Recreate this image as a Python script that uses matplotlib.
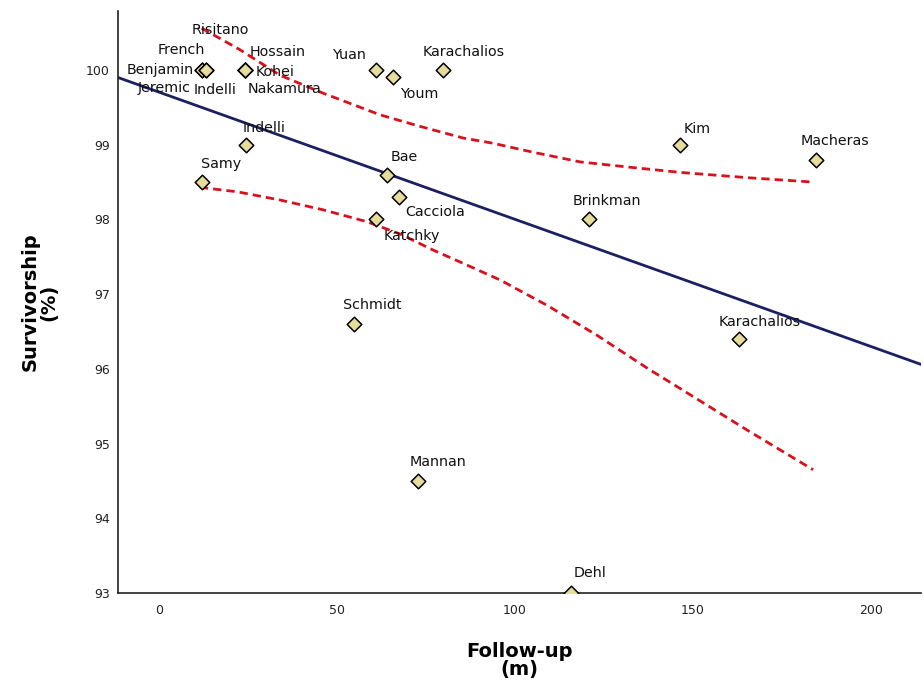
import numpy as np
import matplotlib
matplotlib.use('Agg')
import matplotlib.pyplot as plt

plt.rcParams['font.family'] = ['DejaVu Sans']

# studies (follow-up in months, survivorship in %)
studies = ['Benjamin', 'French', 'Risitano', 'Jeremic',
           'Indelli', 'Hossain', 'Kohei', 'Nakamura',
           'Yuan', 'Youm', 'Karachalios', 'Indelli', 'Samy',
           'Bae', 'Cacciola', 'Katchky', 'Brinkman', 'Kim',
           'Macheras', 'Karachalios', 'Schmidt', 'Mannan', 'Dehl']
followup = [12.0, 12.0, 13.3, 13.3,
            24.2, 24.2, 24.2, 24.2,
            60.9, 65.6, 79.8, 24.4, 12.0,
            64.0, 67.4, 61.0, 120.7, 146.2,
            184.5, 163.0, 54.8, 72.8, 115.6]
survival = [100.0, 100.0, 100.0, 100.0,
            100.0, 100.0, 100.0, 100.0,
            100.0, 99.9, 100.0, 99.0, 98.5,
            98.6, 98.3, 98.0, 98.0, 99.0,
            98.8, 96.4, 96.6, 94.5, 93.0]

# regression line
fit_x = [-11.5, 214.0]
fit_y = [99.90, 96.06]

# confidence band
ci_up_x = [12.0, 22.8, 34.0, 46.1, 62.1, 73.0, 85.4, 93.8, 105.0, 118.3, 132.0, 146.3, 165.0, 183.7]
ci_up_y = [100.56, 100.27, 99.93, 99.69, 99.40, 99.25, 99.09, 99.02, 98.90, 98.77, 98.70, 98.63, 98.56, 98.50]
ci_lo_x = [11.5, 22.0, 34.0, 46.0, 58.4, 68.0, 77.0, 86.0, 95.8, 109.0, 123.0, 137.1, 151.0, 165.2, 183.7]
ci_lo_y = [98.43, 98.37, 98.26, 98.13, 97.97, 97.80, 97.59, 97.40, 97.19, 96.85, 96.45, 96.01, 95.60, 95.18, 94.65]

# label placement (pixel offsets from the point)
offsets = [(-41, 0), (-20, 20), (14, 40), (-42, -18),
           (-30, -20), (32, 18), (30, -2), (39, -19),
           (-27, 15), (27, -17), (21, 18), (18, 17), (19, 18),
           (17, 18), (36, -15), (36, -17), (18, 18), (18, 16),
           (19, 19), (20, 17), (18, 19), (20, 19), (19, 20)]

fig = plt.figure(figsize=(9.24, 6.87), dpi=100)
ax = fig.add_axes([118/924, 1 - 593/687, (921-118)/924, (593-11)/687])

ax.plot(fit_x, fit_y, color='#1b2160', linewidth=2, zorder=2)
ax.plot(ci_up_x, ci_up_y, color='#d8121c', linewidth=2, linestyle=(0, (3, 1.8)), zorder=2)
ax.plot(ci_lo_x, ci_lo_y, color='#d8121c', linewidth=2, linestyle=(0, (3, 1.8)), zorder=2)

ax.scatter(followup, survival, marker='D', s=55, facecolor='#e6dd9c',
           edgecolor='black', linewidth=1.1, zorder=3, clip_on=True)

for name, xv, yv, (dx, dy) in zip(studies, followup, survival, offsets):
    ax.annotate(name, (xv, yv), xytext=(dx, dy), textcoords='offset pixels',
                ha='center', va='center', fontsize=10.3, color='#111111',
                zorder=4, annotation_clip=False)

ax.set_xlim(-11.5, 214)
ax.set_ylim(93, 100.79)
ax.set_xticks([0, 50, 100, 150, 200])
ax.set_yticks([93, 94, 95, 96, 97, 98, 99, 100])
ax.tick_params(length=0, labelsize=9, pad=8, colors='#222222')
ax.tick_params(axis='y', pad=6)

for side in ['top', 'right']:
    ax.spines[side].set_visible(False)
for side in ['left', 'bottom']:
    ax.spines[side].set_linewidth(1.2)
    ax.spines[side].set_color('#222222')

ax.set_xlabel('Follow-up\n(m)', fontsize=14, fontweight='bold', labelpad=18,
              linespacing=0.95)
ax.set_ylabel('Survivorship\n(%)', fontsize=14, fontweight='bold', labelpad=20,
              linespacing=0.95)

plt.savefig('out.png', dpi=100)
